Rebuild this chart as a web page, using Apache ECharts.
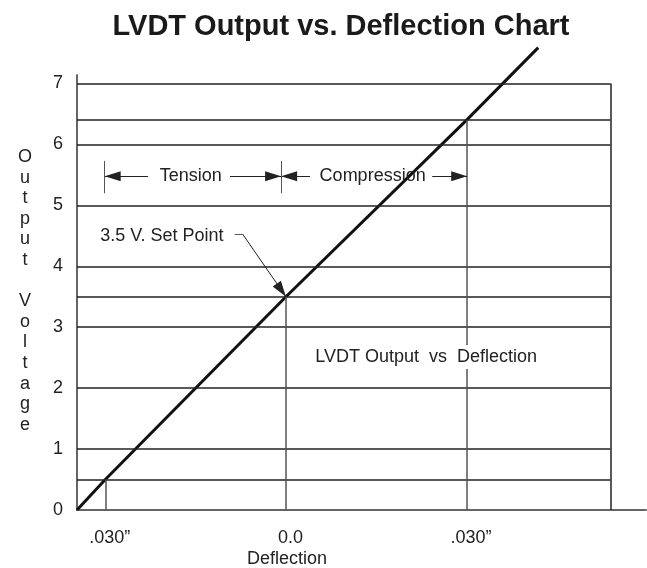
<!DOCTYPE html>
<html>
<head>
<meta charset="utf-8">
<title>LVDT Output vs. Deflection Chart</title>
<script src="https://cdn.jsdelivr.net/npm/echarts@6/dist/echarts.min.js"></script>
<style>
  html, body { margin: 0; padding: 0; background: #fff; }
  #main { width: 647px; height: 568px; }
</style>
</head>
<body>
<div id="main"></div>
<script>
// deflection (inch) against LVDT output (volt)
const deflection = [-0.0347, -0.030, 0.0, 0.030, 0.0419]
const voltage = [0, 0.5, 3.5, 6.4, 7.59]
const xTicks = [-0.03, 0, 0.03]
const xTickLabels = ['.030\u201d', '0.0', '.030\u201d']
const yTicks = [0, 1, 2, 3, 4, 5, 6, 7]
const gridLevels = [0.5, 1, 2, 3, 3.5, 4, 5, 6, 6.4, 7]
const dropPoints = [[-0.030, 0.5], [0.0, 3.5], [0.030, 6.4]]

const xMin = -0.0347
const xMax = 0.0598
const xBox = 0.0539
const yMax = 7.14

// annotations (data coordinates)
const notes = [
  { name: 'Tension', value: [-0.0158, 5.48] },
  { name: 'Compression', value: [0.0144, 5.48] },
  { name: '3.5 V. Set Point', value: [-0.0206, 4.50] },
  { name: 'LVDT Output  vs  Deflection', value: [0.0233, 2.51], bg: true },
]
const arrows = [
  [[-0.0229, 5.48], [-0.0301, 5.48]],
  [[-0.0093, 5.48], [-0.0008, 5.48]],
  [[0.0040, 5.48], [-0.0008, 5.48]],
  [[0.0243, 5.48], [0.0301, 5.48]],
  [[-0.0072, 4.53], [0.0, 3.5]],
]
const stops = [
  [[-0.0301, 5.20], [-0.0301, 5.73]],
  [[-0.0008, 5.20], [-0.0008, 5.73]],
  [[-0.0085, 4.53], [-0.0072, 4.53]],
]

const txt = '#222'
const font = 'Liberation Sans, Arial, sans-serif'

function seg(a, b) {
  return [{ coord: a }, { coord: b }]
}

const hLines = gridLevels.map((v) => seg([xMin, v], [xBox, v]))
hLines.push(seg([xBox, 0], [xBox, 7]))
const drops = dropPoints.map((p) => seg([p[0], 0], p))

const chart = echarts.init(document.getElementById('main'))
const option = {
  animation: false,
  backgroundColor: '#fff',
  textStyle: { fontFamily: font },
  grid: { left: 77, right: 1, top: 75, bottom: 58 },
  graphic: [
    {
      type: 'text', x: 341, y: 27,
      style: {
        text: 'LVDT Output vs. Deflection Chart', fill: '#1a1a1a',
        font: 'bold 29px ' + font, textAlign: 'center', textVerticalAlign: 'middle',
      },
    },
    {
      type: 'text', x: 287, y: 559,
      style: {
        text: 'Deflection', fill: txt, font: '18px ' + font,
        textAlign: 'center', textVerticalAlign: 'middle',
      },
    },
    {
      type: 'text', x: 25, y: 291,
      style: {
        text: 'O\nu\nt\np\nu\nt\n\nV\no\nl\nt\na\ng\ne',
        fill: txt, font: '18px ' + font, lineHeight: 20.6,
        textAlign: 'center', textVerticalAlign: 'middle',
      },
    },
  ],
  xAxis: {
    type: 'value',
    min: xMin,
    max: xMax,
    axisLine: { show: true, onZero: false, lineStyle: { color: '#666', width: 2 } },
    axisTick: { show: false },
    splitLine: { show: false },
    axisLabel: {
      customValues: xTicks,
      margin: 19,
      padding: [0, 0, 0, 9],
      fontSize: 18,
      color: txt,
      formatter: (v) => {
        const i = xTicks.findIndex((t) => Math.abs(t - v) < 1e-6)
        return i < 0 ? '' : xTickLabels[i]
      },
    },
  },
  yAxis: {
    type: 'value',
    min: 0,
    max: yMax,
    axisLine: { show: true, onZero: false, lineStyle: { color: '#666', width: 2 } },
    axisTick: { show: false },
    splitLine: { show: false },
    axisLabel: { customValues: yTicks, margin: 14, fontSize: 18, color: txt },
  },
  series: [
    {
      name: 'frame',
      type: 'line',
      data: [[xMin, 0]],
      symbol: 'none',
      silent: true,
      markLine: {
        silent: true,
        symbol: ['none', 'none'],
        label: { show: false },
        lineStyle: { color: '#222', width: 1.5, type: 'solid' },
        data: hLines,
      },
    },
    {
      name: 'drops',
      type: 'line',
      data: [[xMin, 0]],
      symbol: 'none',
      silent: true,
      markLine: {
        silent: true,
        symbol: ['none', 'none'],
        label: { show: false },
        lineStyle: { color: '#555', width: 1.5, type: 'solid' },
        data: drops,
      },
    },
    {
      name: 'arrows',
      type: 'line',
      data: [[xMin, 0]],
      symbol: 'none',
      silent: true,
      markLine: {
        silent: true,
        symbol: ['none', 'triangle'],
        symbolSize: [10, 16],
        symbolOffset: [[0, 0], [0, 8]],
        label: { show: false },
        lineStyle: { color: '#222', width: 1, type: 'solid' },
        itemStyle: { color: '#222' },
        data: arrows.map((a) => seg(a[0], a[1])),
      },
    },
    {
      name: 'stops',
      type: 'line',
      data: [[xMin, 0]],
      symbol: 'none',
      silent: true,
      markLine: {
        silent: true,
        symbol: ['none', 'none'],
        label: { show: false },
        lineStyle: { color: '#555', width: 1, type: 'solid' },
        data: stops.map((a) => seg(a[0], a[1])),
      },
    },
    {
      name: 'LVDT Output',
      type: 'line',
      data: deflection.map((d, i) => [d, voltage[i]]),
      symbol: 'none',
      clip: false,
      z: 4,
      lineStyle: { color: '#111', width: 3 },
    },
    {
      name: 'notes',
      type: 'scatter',
      symbolSize: 0,
      z: 5,
      itemStyle: { opacity: 1 },
      data: notes.map((n) => ({
        name: n.name,
        value: n.value,
        label: n.bg ? { backgroundColor: '#fff', padding: [3, 6] } : {},
      })),
      label: {
        show: true,
        position: 'inside',
        formatter: '{b}',
        fontSize: 18,
        color: txt,
      },
    },
  ],
}
chart.setOption(option)
</script>
</body>
</html>
